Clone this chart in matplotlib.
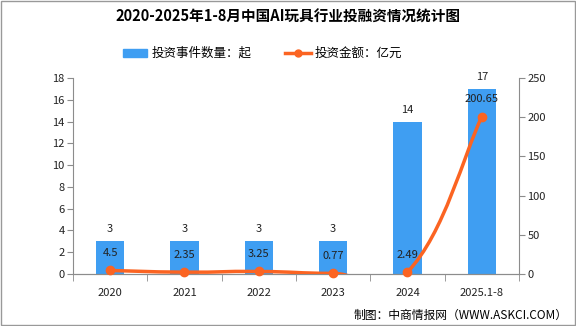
import matplotlib.pyplot as plt
from matplotlib.path import Path
from matplotlib.patches import PathPatch, Rectangle
from matplotlib.lines import Line2D
import numpy as np

plt.rcParams['font.family'] = ['Noto Sans CJK SC', 'DejaVu Sans']

years = ["2020", "2021", "2022", "2023", "2024", "2025.1-8"]
deals = [3, 3, 3, 3, 14, 17]
amount = [4.5, 2.35, 3.25, 0.77, 2.49, 200.65]
amount_labels = ["4.5", "2.35", "3.25", "0.77", "2.49", "200.65"]

bar_color = "#3f9ef2"
line_color = "#fb6422"
grey = "#8c8c8c"

fig = plt.figure(figsize=(5.76, 3.26), dpi=100)
ax = fig.add_axes([73 / 576, 1 - 274 / 326, 446 / 576, 196 / 326])
ax2 = ax.twinx()

x = np.arange(len(years))
ax.bar(x, deals, width=0.38, color=bar_color, zorder=2)
for xi, d in zip(x, deals):
    ax.annotate(str(d), (xi, d), xytext=(0, 5), textcoords="offset points",
                ha="center", va="bottom", fontsize=8, color="#222222")

ax.set_xlim(-0.5, len(years) - 0.5)
ax.set_ylim(0, 18)
ax.set_yticks(range(0, 19, 2))
ax2.set_ylim(0, 250)
ax2.set_yticks(range(0, 251, 50))

# smooth curve (bezier) through the data points
pts = list(zip(x.astype(float), amount))
verts = [pts[0]]
codes = [Path.MOVETO]
s = 0.5
for i in range(len(pts) - 1):
    p0 = pts[i - 1] if i > 0 else pts[i]
    p1 = pts[i]
    p2 = pts[i + 1]
    p3 = pts[i + 2] if i + 2 < len(pts) else pts[i + 1]
    c1 = (p1[0] + (p2[0] - p0[0]) * s / 2, p1[1] + (p2[1] - p0[1]) * s / 2)
    c2 = (p2[0] - (p3[0] - p1[0]) * s / 2, p2[1] - (p3[1] - p1[1]) * s / 2)
    verts += [c1, c2, p2]
    codes += [Path.CURVE4] * 3
curve = PathPatch(Path(verts, codes), facecolor="none",
                  edgecolor=line_color, lw=2.5, zorder=3)
ax2.add_patch(curve)
curve.set_clip_path(ax2.patch)
ax2.plot(x, amount, "o", color=line_color, ms=6, zorder=4, clip_on=False)
for xi, a, lab in zip(x, amount, amount_labels):
    ax2.annotate(lab, (xi, a), xytext=(0, 9), textcoords="offset points",
                 ha="center", va="bottom", fontsize=8, color="#222222")

for a in (ax, ax2):
    a.spines["top"].set_visible(False)
    for side in ("left", "right", "bottom"):
        a.spines[side].set_color(grey)
    a.tick_params(axis="y", colors=grey, labelcolor="#222222", labelsize=8,
                  length=4, pad=2)
ax.spines["right"].set_visible(False)
ax2.spines["left"].set_visible(False)

ax.set_xticks(x)
ax.set_xticklabels(years, fontsize=8, color="#222222")
ax.tick_params(axis="x", length=0, pad=10)
ax.set_xticks(np.arange(-0.5, len(years)), minor=True)
ax.tick_params(axis="x", which="minor", length=5, color=grey)

fig.text(0.5, 1 - 17 / 326, "2020-2025年1-8月中国AI玩具行业投融资情况统计图",
         ha="center", va="center", fontsize=10.5, fontweight="bold")

fig.patches.append(Rectangle((123 / 576, 1 - 57 / 326), 24 / 576, 8 / 326,
                             transform=fig.transFigure, color=bar_color))
fig.text(152 / 576, 1 - 53 / 326, "投资事件数量：起", ha="left", va="center",
         fontsize=9)
fig.lines.append(Line2D([285 / 576, 311 / 576], [1 - 53 / 326] * 2,
                        transform=fig.transFigure, color=line_color, lw=2.5))
fig.lines.append(Line2D([298 / 576], [1 - 53 / 326], transform=fig.transFigure,
                        color=line_color, marker="o", ms=5))
fig.text(315 / 576, 1 - 53 / 326, "投资金额：亿元", ha="left", va="center",
         fontsize=9)

fig.text(568 / 576, 1 - 315 / 326, "制图：中商情报网（WWW.ASKCI.COM）",
         ha="right", va="center", fontsize=8.5)

fig.patches.append(Rectangle((0.001, 0.002), 0.997, 0.995, transform=fig.transFigure,
                             fill=False, edgecolor="#999999", lw=1))

fig.savefig("out.png", dpi=100)
